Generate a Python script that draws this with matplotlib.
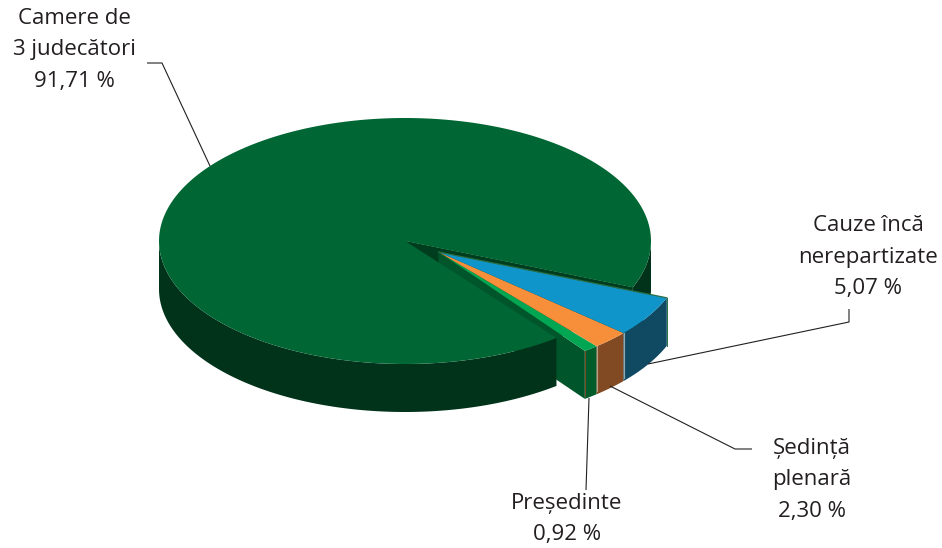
import numpy as np
import matplotlib
matplotlib.use("Agg")
import matplotlib.pyplot as plt

# shares of cases, in percent
main_share = 91.71
slice_shares = [0.92, 2.30, 5.07]  # going up from the cut edge of the big wedge
slice_tops = ["#00a651", "#f68e3a", "#1095cb"]
slice_walls = ["#005c2b", "#814a22", "#0f4a62"]
slice_corners = ["#7a4a24", "#b9a08c", "#8fa9b5"]

labels = ["Camere de\n3 judecători\n91,71 %", "Cauze încă\nnerepartizate\n5,07 %",
          "Ședință\nplenară\n2,30 %", "Președinte\n0,92 %"]
label_pos = [(74, 50), (868, 257), (812, 480), (567, 519)]
leaders = [([147, 162, 210], [63, 63, 166]),
           ([849, 849, 648], [309, 322, 364]),
           ([752, 735, 610], [449, 449, 386]),
           ([586, 589], [490, 398])]

# pie geometry in pixels
cx, cy = 405, 241
rx, ry = 246, 123
depth = 48
off_x, off_y = 33.5, 11
start_deg = 52
slice_start_deg = 53.5
slice_gain = 1.06  # the pulled out slices are drawn a bit wider than their share

plt.rcParams['font.family'] = ['Open Sans', 'DejaVu Sans']

fig = plt.figure(figsize=(9.42, 5.48), dpi=100)
ax = fig.add_axes([0, 0, 1, 1])
ax.set_xlim(0, 942)
ax.set_ylim(548, 0)
ax.axis("off")


def arc(t0, t1, x0=cx, y0=cy):
    t = np.radians(np.linspace(t0, t1, 200))
    return x0 + rx * np.cos(t), y0 + ry * np.sin(t)


def wall(t0, t1, color, x0=cx, y0=cy, z=1):
    x, y = arc(t0, t1, x0, y0)
    ax.fill(np.r_[x, x[::-1]], np.r_[y, y[::-1] + depth], color=color, lw=0, zorder=z)


main_sweep = main_share * 3.6
main_end = start_deg + main_sweep  # wraps past 360 to the right side

# right hand piece of outer wall and the dark notch behind the slices
wall(0, main_end - 360, "#00331a", z=1)
x, y = arc(main_end - 360, start_deg)
ax.fill(np.r_[cx, x], np.r_[cy, y], color="#003d1e", lw=0, zorder=1)
ex, ey = arc(main_end, main_end)
ax.fill([cx, ex[0], ex[0], cx], [cy, ey[0], ey[0] + depth, cy + depth], color="#003d1e", lw=0, zorder=1)

# the pulled out slices
ax_x, ax_y = cx + off_x, cy + off_y
angle = slice_start_deg
gx, gy = arc(angle, angle, ax_x, ax_y)
ax.fill([ax_x, gx[0], gx[0], ax_x], [ax_y, gy[0], gy[0] + depth, ax_y + depth], color="#00562a", lw=0, zorder=2)
for share, top, side, corner in zip(slice_shares, slice_tops, slice_walls, slice_corners):
    next_angle = angle - share * 3.6 * slice_gain
    wall(next_angle, angle, side, ax_x, ax_y, z=3)
    x, y = arc(next_angle, angle, ax_x, ax_y)
    ax.fill(np.r_[ax_x, x], np.r_[ax_y, y], color=top, lw=0, zorder=4)
    # thin light seam on the wall corner
    ax.plot([x[-1], x[-1]], [y[-1], y[-1] + depth - 3], color=corner, lw=0.8, zorder=4)
    angle = next_angle

# thin green rim along the blue slice
ax.plot(np.r_[ax_x, x[0]], np.r_[ax_y, y[0]], color="#2a6e45", lw=0.9, zorder=4)
ax.plot([x[0], x[0]], [y[0], y[0] + depth], color="#2a6e45", lw=0.7, zorder=4)

# big wedge goes on top, it hides the inner part of the green slice wall
wall(start_deg, 180, "#00331a", z=5)
x, y = arc(start_deg, main_end)
ax.fill(np.r_[cx, x], np.r_[cy, y], color="#006633", lw=0, zorder=6)

for lx, ly in leaders:
    ax.plot(lx, ly, color="#231f20", lw=0.8, zorder=7, solid_capstyle="butt")

for text, (tx, ty) in zip(labels, label_pos):
    ax.text(tx, ty, text, ha="center", va="center", fontsize=16, color="#231f20",
            linespacing=1.66, zorder=8)

fig.savefig("out.png", dpi=100)
